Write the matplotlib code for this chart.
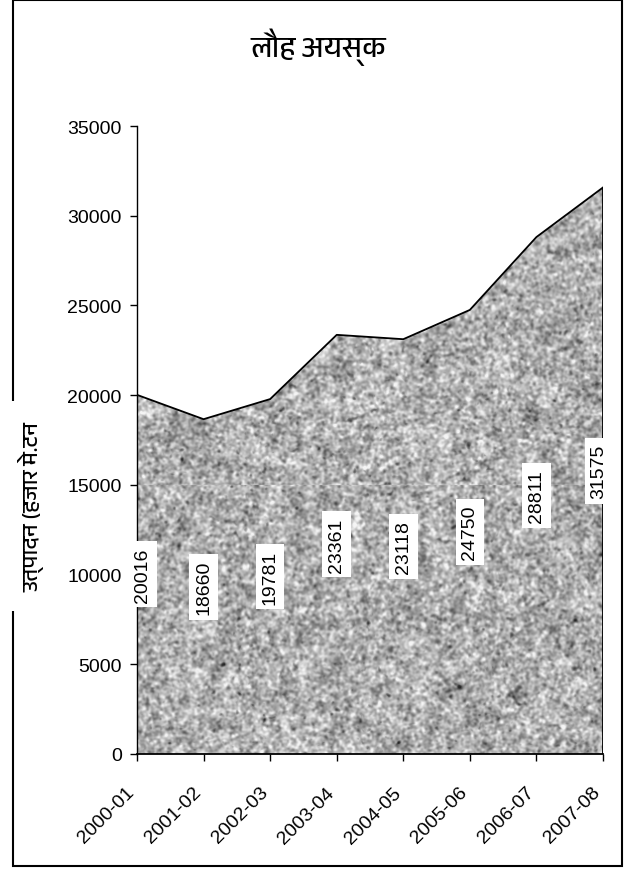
"""Iron ore production area chart (लौह अयस्क)."""

import numpy as np
import matplotlib
matplotlib.use("Agg")
import matplotlib.pyplot as plt
from matplotlib import font_manager
from matplotlib.ft2font import FT2Font
from matplotlib.patches import Polygon, Rectangle
from matplotlib.transforms import ScaledTranslation

years = ["2000-01", "2001-02", "2002-03", "2003-04",
         "2004-05", "2005-06", "2006-07", "2007-08"]
production = [20016, 18660, 19781, 23361, 23118, 24750, 28811, 31575]
y_ticks = [0, 5000, 10000, 15000, 20000, 25000, 30000, 35000]

title_text = "लौह अयस्क"
ylabel_text = "उत्पादन (हजार मे.टन"


def find_devanagari_font():
    preferred = []
    others = []
    for f in font_manager.fontManager.ttflist:
        try:
            cmap = FT2Font(f.fname).get_charmap()
        except Exception:
            continue
        if 0x0932 in cmap and 0x0915 in cmap:
            if "Devanagari" in f.name or "Lohit" in f.name or "Mangal" in f.name:
                preferred.append(f.name)
            else:
                others.append(f.name)
    found = preferred + others
    return found[0] if found else None


def granite(h, w, seed=7):
    # speckled grey stone texture: fine grain plus some softer blotches
    rng = np.random.default_rng(seed)

    def blur(a, sigma):
        fy = np.fft.fftfreq(a.shape[0])[:, None]
        fx = np.fft.fftfreq(a.shape[1])[None, :]
        g = np.exp(-2 * (np.pi * sigma) ** 2 * (fx ** 2 + fy ** 2))
        return np.real(np.fft.ifft2(np.fft.fft2(a) * g))

    fine = blur(rng.standard_normal((h, w)), 1.2)
    coarse = blur(rng.standard_normal((h, w)), 5.0)
    fine /= fine.std()
    coarse /= coarse.std()
    tex = 0.69 + 0.10 * fine + 0.035 * coarse
    specks = blur(rng.standard_normal((h, w)), 1.5)
    specks /= specks.std()
    tex -= 0.16 * np.clip(-specks - 1.4, 0, None)
    return np.clip(tex, 0.15, 0.96)


dev_font = find_devanagari_font()
text_family = ([dev_font] if dev_font else []) + ["Liberation Sans", "DejaVu Sans"]
plt.rcParams["font.family"] = ["Liberation Sans", "DejaVu Sans"]

fig = plt.figure(figsize=(6.27, 8.70), dpi=100)
ax = fig.add_axes([137 / 627, 1 - 755 / 870, 466 / 627, 628 / 870])

x = np.arange(len(years))
ax.set_xlim(0, len(years) - 1)
ax.set_ylim(0, 35000)

# stone texture laid down as two tiles, so a faint seam shows where they meet
upper = granite(360, 470, seed=7)
lower = granite(270, 470, seed=11)
upper[-1, :] = np.minimum(upper[-1, :] + 0.05, 0.96)
texture = np.vstack([upper, lower])

# area filled with the texture, clipped to the data polygon
verts = [(x[0], 0)] + list(zip(x, production)) + [(x[-1], 0)]
area = Polygon(verts, closed=True, facecolor="none", edgecolor="none",
               transform=ax.transData)
ax.add_patch(area)
img = ax.imshow(texture, cmap="gray", vmin=0, vmax=1,
                extent=[0, len(years) - 1, 0, 35000], aspect="auto",
                interpolation="bilinear", zorder=1)
img.set_clip_path(area)

ax.plot(x, production, color="black", lw=1.3, zorder=3)
ax.vlines(x[-1], 0, production[-1], color="black", lw=1.3, zorder=3)

for i, v in enumerate(production):
    dx = 4 if i == 0 else -3 if i == len(production) - 1 else 0
    ax.annotate(f"{v}", xy=(x[i], v / 2), xytext=(dx, 0),
                textcoords="offset points", rotation=90,
                ha="center", va="center", fontsize=14, zorder=5,
                bbox=dict(boxstyle="square,pad=0.3", fc="white", ec="none"))

for side in ["top", "right"]:
    ax.spines[side].set_visible(False)
ax.spines["left"].set_linewidth(1.0)
ax.spines["bottom"].set_linewidth(1.3)
ax.spines["left"].set_zorder(4)
ax.spines["bottom"].set_zorder(4)

ax.set_yticks(y_ticks)
ax.set_yticklabels([str(t) for t in y_ticks])
ax.set_xticks(x)
ax.set_xticklabels(years, rotation=45, ha="right", va="top",
                   rotation_mode="anchor")
ax.tick_params(axis="both", direction="out", length=5, width=1,
               labelsize=14, color="black")
ax.tick_params(axis="y", pad=6)
ax.tick_params(axis="x", pad=4)
shift = ScaledTranslation(-11 / 100, -17 / 100, fig.dpi_scale_trans)
for lab in ax.get_xticklabels():
    lab.set_transform(lab.get_transform() + shift)

# outer frame around the whole chart
fig.patches.append(Rectangle((13 / 627, 1 - 867 / 870), 609 / 627, 866 / 870,
                             transform=fig.transFigure, fill=False,
                             edgecolor="black", lw=1.5, zorder=1))

fig.text(318 / 627, 1 - 47 / 870, title_text, ha="center", va="center",
         fontsize=21, family=text_family, zorder=3)
fig.text(32 / 627, 1 - 507 / 870, ylabel_text, ha="center", va="center",
         rotation=90, fontsize=16, family=text_family, zorder=3,
         bbox=dict(boxstyle="square,pad=0.9", fc="white", ec="none"))

fig.savefig("out.png", dpi=100)
